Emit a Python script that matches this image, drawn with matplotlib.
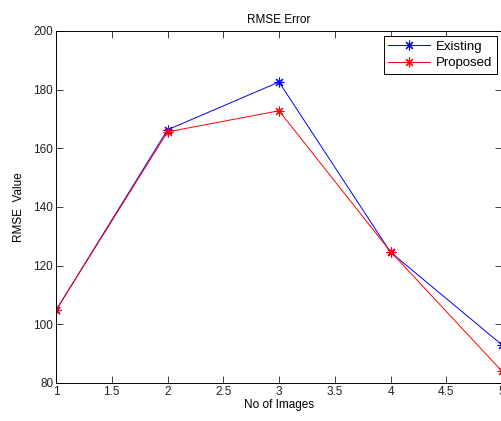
import numpy as np
import matplotlib
matplotlib.use("Agg")
import matplotlib.pyplot as plt

# values
num_images = [1, 2, 3, 4, 5]
existing = [104.8, 166.3, 182.6, 124.6, 93.0]
proposed = [104.8, 165.6, 172.8, 124.8, 84.0]

plt.rcParams["font.family"] = ["Liberation Sans", "DejaVu Sans"]
plt.rcParams["font.size"] = 8

fig = plt.figure(figsize=(5.02, 4.21), dpi=100)
ax = fig.add_axes([0.1116, 0.0903, 0.8884, 0.8361])

# MATLAB-like thin asterisk marker
star = (8, 2, 0)
ax.plot(num_images, existing, color="#0000ff", marker=star, markersize=7,
        markeredgewidth=0.8, linewidth=0.7, label="Existing")
ax.plot(num_images, proposed, color="#ff0000", marker=star, markersize=7,
        markeredgewidth=0.8, linewidth=0.7, label="Proposed")

ax.set_xlim(1, 5)
ax.set_ylim(80, 200)
ax.set_xticks(np.arange(1, 5.01, 0.5))
ax.set_xticklabels(["1", "1.5", "2", "2.5", "3", "3.5", "4", "4.5", "5"])
ax.set_yticks(range(80, 201, 20))
ax.tick_params(direction="in", top=True, right=True, length=5, width=0.6,
               labelsize=8.5, pad=2, colors="#222222")
for s in ax.spines.values():
    s.set_linewidth(0.7)

ax.set_title("RMSE Error", fontsize=8.5, pad=6)
ax.set_xlabel("No of Images", fontsize=8.5, labelpad=1)
ax.set_ylabel("RMSE  Value", fontsize=8.5, labelpad=6)

leg = ax.legend(loc="upper right", fontsize=9.5, fancybox=False,
                edgecolor="black", framealpha=1, handlelength=3.2,
                borderaxespad=0.4, borderpad=0.35, labelspacing=0.3,
                handletextpad=0.4)
leg.get_frame().set_linewidth(0.7)

fig.savefig("out.png", dpi=100, facecolor="white")
